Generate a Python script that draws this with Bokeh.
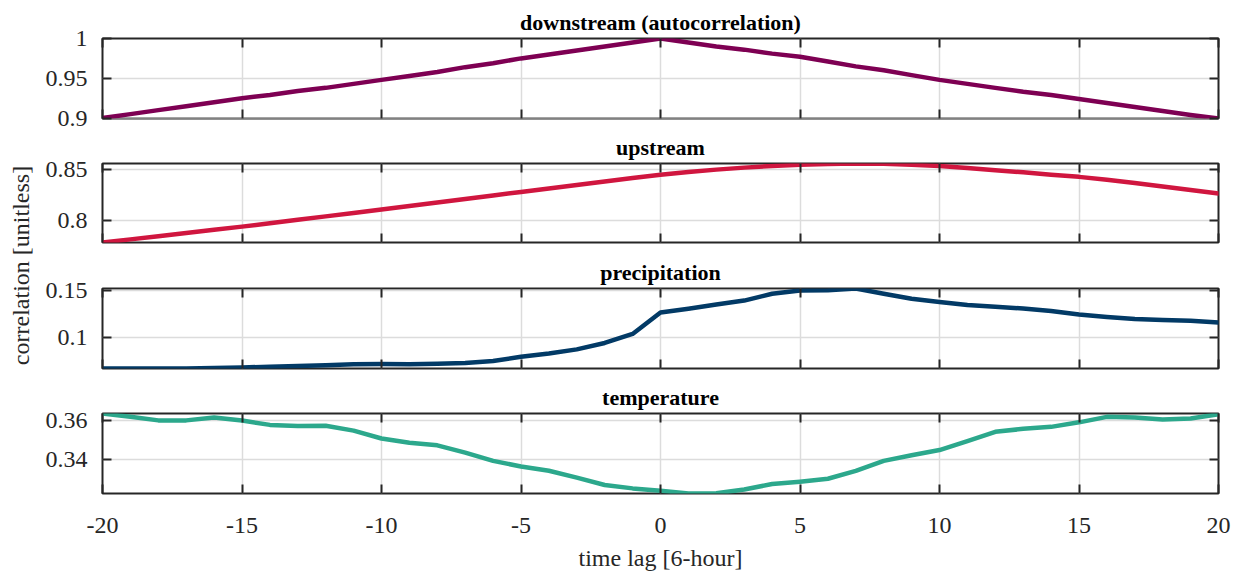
import math
from bokeh.plotting import figure
from bokeh.models import (Range1d, FixedTicker, LinearAxis, Label,
                          CustomJSTickFormatter, ColumnDataSource)
from bokeh.layouts import row, column
from bokeh.embed import file_html
from bokeh.resources import INLINE

# ---------------- data ----------------
lags = list(range(-20, 21))

downstream = [0.900, 0.905, 0.910, 0.915, 0.920, 0.925, 0.929, 0.934, 0.938, 0.943,
              0.948, 0.953, 0.958, 0.964, 0.969, 0.975, 0.980, 0.985, 0.990, 0.995,
              1.000,
              0.995, 0.990, 0.986, 0.981, 0.977, 0.971, 0.965, 0.960, 0.954, 0.948,
              0.943, 0.938, 0.933, 0.929, 0.924, 0.919, 0.914, 0.909, 0.904, 0.8995]

upstream = [0.7777, 0.7808, 0.7840, 0.7871, 0.7903, 0.7935, 0.7969, 0.8003, 0.8037, 0.8071,
            0.8105, 0.8140, 0.8175, 0.8210, 0.8245, 0.8280, 0.8315, 0.8350, 0.8384, 0.8418,
            0.8450,
            0.8478, 0.8502, 0.8522, 0.8538, 0.8550, 0.8558, 0.8563, 0.8560, 0.8551, 0.8537,
            0.8518, 0.8497, 0.8475, 0.8452, 0.8430, 0.8401, 0.8369, 0.8335, 0.8300, 0.8265]

precipitation = [0.0677, 0.0678, 0.0678, 0.0678, 0.0681, 0.0688, 0.0695, 0.0702, 0.0712, 0.0722,
                 0.0725, 0.0722, 0.0727, 0.0735, 0.0755, 0.0800, 0.0835, 0.0878, 0.0945, 0.1040,
                 0.1265,
                 0.1305, 0.1348, 0.1390, 0.1462, 0.1497, 0.1498, 0.1517, 0.1462, 0.1410, 0.1375,
                 0.1343, 0.1325, 0.1307, 0.1280, 0.1243, 0.1218, 0.1198, 0.1185, 0.1178, 0.1160]

temperature = [0.3634, 0.3617, 0.3599, 0.3599, 0.3614, 0.3598, 0.3576, 0.3570, 0.3572, 0.3547,
               0.3507, 0.3485, 0.3472, 0.3435, 0.3393, 0.3364, 0.3343, 0.3308, 0.3270, 0.3253,
               0.3241,
               0.3227, 0.3228, 0.3247, 0.3275, 0.3287, 0.3302, 0.3342, 0.3393, 0.3422, 0.3448,
               0.3493, 0.3541, 0.3556, 0.3566, 0.3589, 0.3617, 0.3614, 0.3604, 0.3609, 0.3630]

panel_titles = ["downstream (autocorrelation)", "upstream", "precipitation", "temperature"]
panel_keys = ["downstream", "upstream", "precipitation", "temperature"]
panel_colors = ["#7E0053", "#D0163F", "#023A66", "#2CA88C"]
y_ticks = [[0.9, 0.95, 1.0], [0.8, 0.85], [0.1, 0.15], [0.34, 0.36]]
x_ticks = [-20, -15, -10, -5, 0, 5, 10, 15, 20]

x_label = "time lag [6-hour]"
y_label = "correlation [unitless]"

# ---------------- styling ----------------
FONT = "Liberation Serif"
INK = "#262626"
GRID = "#dcdcdc"
TXT = "24px"
TITLE_TXT = "22px"

src = ColumnDataSource(dict(lag=lags, downstream=downstream, upstream=upstream,
                            precipitation=precipitation, temperature=temperature))

fmt = CustomJSTickFormatter(code="return String(Math.round(tick*1000)/1000);")
blank = CustomJSTickFormatter(code="return '';")

LEFT_W = 40
PANEL_W = 1199
STRIP_H = 27
heights = [132, 125, 119, 170]
tops = [38, 31, 31, 37]
bottoms = [14, 15, 8, 53]


def style_axis(ax, show_labels):
    ax.axis_line_color = None
    ax.major_tick_in = 9
    ax.major_tick_out = 0
    ax.minor_tick_in = 0
    ax.minor_tick_out = 0
    ax.major_tick_line_color = INK
    ax.major_tick_line_width = 2
    if show_labels:
        ax.formatter = fmt
        ax.major_label_text_font = FONT
        ax.major_label_text_font_size = TXT
        ax.major_label_text_color = INK
        ax.major_label_standoff = 16
    else:
        ax.formatter = blank
        ax.major_label_text_font_size = "1px"
        ax.major_label_standoff = 0


figs = []
for i, key in enumerate(panel_keys):
    vals = src.data[key]
    last = (i == len(panel_keys) - 1)
    p = figure(width=PANEL_W, height=heights[i],
               x_range=Range1d(-20, 20), y_range=Range1d(min(vals), max(vals)),
               output_backend="svg", toolbar_location=None,
               min_border_left=62, min_border_right=21,
               min_border_top=tops[i], min_border_bottom=bottoms[i])
    p.background_fill_color = "white"
    p.border_fill_color = "white"
    p.outline_line_color = INK
    p.outline_line_width = 2
    p.outline_line_alpha = 1.0

    xt = FixedTicker(ticks=x_ticks)
    yt = FixedTicker(ticks=y_ticks[i])

    bottom_ax = p.below[0]
    left_ax = p.left[0]
    bottom_ax.ticker = xt
    left_ax.ticker = yt
    style_axis(bottom_ax, last)
    style_axis(left_ax, True)
    left_ax.major_label_standoff = 15
    if last:
        bottom_ax.major_label_standoff = 24

    top_ax = LinearAxis(ticker=xt)
    style_axis(top_ax, False)
    p.add_layout(top_ax, "above")
    right_ax = LinearAxis(ticker=yt)
    style_axis(right_ax, False)
    p.add_layout(right_ax, "right")

    p.xgrid.ticker = xt
    p.ygrid.ticker = yt
    p.grid.grid_line_color = GRID
    p.grid.grid_line_width = 1.5

    p.line(x="lag", y=key, source=src, line_color=panel_colors[i], line_width=4.5,
           line_cap="round", line_join="round")

    p.title.text = panel_titles[i]
    p.title.align = "center"
    p.title.vertical_align = "top"
    p.title.text_font = FONT
    p.title.text_font_style = "bold"
    p.title.text_font_size = TITLE_TXT
    p.title.text_color = "black"
    p.title.standoff = 3
    figs.append(p)

panels_h = sum(heights)

# y-axis label column
lf = figure(width=LEFT_W, height=panels_h, x_range=Range1d(0, LEFT_W),
            y_range=Range1d(0, panels_h), x_axis_type=None, y_axis_type=None,
            output_backend="svg", toolbar_location=None, min_border=0)
lf.outline_line_color = None
lf.grid.visible = False
lf.add_layout(Label(x=20, y=panels_h - 265, text=y_label, angle=math.pi / 2,
                    text_align="center", text_baseline="middle",
                    text_font=FONT, text_font_size=TXT, text_color=INK))

# x-axis label strip
total_w = LEFT_W + PANEL_W
strip = figure(width=total_w, height=STRIP_H, x_range=Range1d(0, total_w),
               y_range=Range1d(0, STRIP_H), x_axis_type=None, y_axis_type=None,
               output_backend="svg", toolbar_location=None, min_border=0)
strip.outline_line_color = None
strip.grid.visible = False
strip.add_layout(Label(x=LEFT_W + 62 + (PANEL_W - 62 - 21) / 2, y=16, text=x_label,
                       text_align="center", text_baseline="alphabetic",
                       text_font=FONT, text_font_size=TXT, text_color=INK))

layout = column(row(lf, column(*figs)), strip)

with open("out.html", "w") as f:
    f.write(file_html(layout, INLINE))
